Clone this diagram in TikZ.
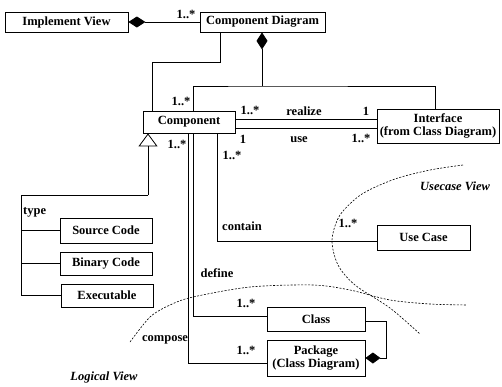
\documentclass[tikz,border=0pt]{standalone}
\usepackage{fontspec}
\setmainfont{Liberation Serif}
\usetikzlibrary{arrows.meta}
\newcommand\myfs{\fontsize{12.5}{13}\selectfont}
\begin{document}
\begin{tikzpicture}[x=1pt,y=-1pt,
  box/.style={draw,line width=0.8pt,inner sep=0pt,align=center,font=\myfs\bfseries},
  lbl/.style={inner sep=0pt,font=\myfs\bfseries},
  view/.style={inner sep=0pt,font=\myfs\bfseries\itshape},
  conn/.style={line width=0.8pt},
  diam/.style={conn,-{Diamond[length=17pt,width=11pt]}},
  sdiam/.style={conn,-{Diamond[length=15pt,width=11pt]}},
  gen/.style={conn,-{Triangle[open,length=13pt,width=19pt]}},
  bound/.style={line width=0.6pt,dash pattern=on 2pt off 1.5pt}]
\useasboundingbox (0,0) rectangle (502,386);
% boxes
\node[box,minimum width=123pt,minimum height=20pt] (impl) at (66.5,22) {Implement View};
\node[box,minimum width=125pt,minimum height=20pt] (cd) at (262.5,22) {Component Diagram};
\node[box,minimum width=92pt,minimum height=22pt] (comp) at (189,122) {Component};
\node[box,minimum width=122pt,minimum height=34pt] (iface) at (438,126) {Interface\\(from Class Diagram)};
\node[box,minimum width=93pt,minimum height=25pt] (uc) at (423.5,237.5) {Use Case};
\node[box,minimum width=92pt,minimum height=25pt] (src) at (106,230.5) {Source Code};
\node[box,minimum width=92pt,minimum height=23pt] (bin) at (106,263.5) {Binary Code};
\node[box,minimum width=92pt,minimum height=23pt] (exe) at (107,295.5) {Executable};
\node[box,minimum width=98pt,minimum height=24pt] (cls) at (316,319) {Class};
\node[box,minimum width=98pt,minimum height=36pt] (pkg) at (316,358) {Package\\(Class Diagram)};
% connectors
\draw[diam] (cd.west) -- (impl.east);
\coordinate (j1) at (262,86);
\draw[diam] (j1) -- (j1 |- cd.south);
\draw[conn] ([xshift=4pt]comp.north) |- (j1) -| ([xshift=-3pt]iface.north);
\draw[conn] ([xshift=-42.5pt]cd.south) -- ++(0,30) -| ([xshift=-37pt]comp.north);
\coordinate (r1) at (0,119);
\coordinate (r2) at (0,128);
\draw[conn] (comp.east |- r1) -- (iface.west |- r1);
\draw[conn] (comp.east |- r2) -- (iface.west |- r2);
\coordinate (g1) at (148,195);
\coordinate (g2) at (21,195);
\draw[gen] (g1) -- (g1 |- comp.south);
\draw[conn] (g1) -- (g2) |- (exe.west);
\draw[conn] (g2 |- src.west) -- (src.west);
\draw[conn] (g2 |- bin.west) -- (bin.west);
\draw[conn] ([xshift=-1pt]comp.south) |- ([yshift=-5pt]pkg.west);
\draw[conn] ([xshift=4pt]comp.south) |- ([yshift=3pt]cls.west);
\draw[conn] ([xshift=28pt]comp.south) |- ([yshift=-3.5pt]uc.west);
\draw[sdiam] ([yshift=-2pt]cls.east) -- ++(21,0) |- (pkg.east);
% labels
\node[lbl] (m1) at (186,14) {1..*};
\node[lbl] (m2) at (181,101) {1..*};
\node[lbl] (m3) at (250,110) {1..*};
\node[lbl] (rl) at (304,111) {realize};
\node[lbl] (o1) at (366,111) {1};
\node[lbl] (o2) at (243,139) {1};
\node[lbl] (us) at (299,140) {use};
\node[lbl] (m4) at (361,138) {1..*};
\node[lbl] (m5) at (232,155) {1..*};
\node[lbl] (m6) at (177,144) {1..*};
\node[lbl,anchor=west] (ty) at (23,212) {type};
\node[lbl] (ct) at (242,226) {contain};
\node[lbl] (df) at (217,273) {define};
\node[lbl] (m7) at (348,223) {1..*};
\node[view] (uv) at (455,186) {Usecase View};
\node[lbl] (m8) at (246,303) {1..*};
\node[lbl] (m9) at (246,350) {1..*};
\node[lbl] (cp) at (165,340) {compose};
\node[view] (lv) at (104,377) {Logical View};
% view boundaries
\draw[bound] plot[smooth] coordinates {(463,165) (430,170) (395,179) (362,194) (340,215) (332,240) (338,265) (355,285) (390,308) (420,334)};
\draw[bound] plot[smooth] coordinates {(130,342) (150,317) (170,305) (193,297) (250,287) (313,285) (350,290) (390,300) (430,304) (467,305)};
\end{tikzpicture}
\end{document}
